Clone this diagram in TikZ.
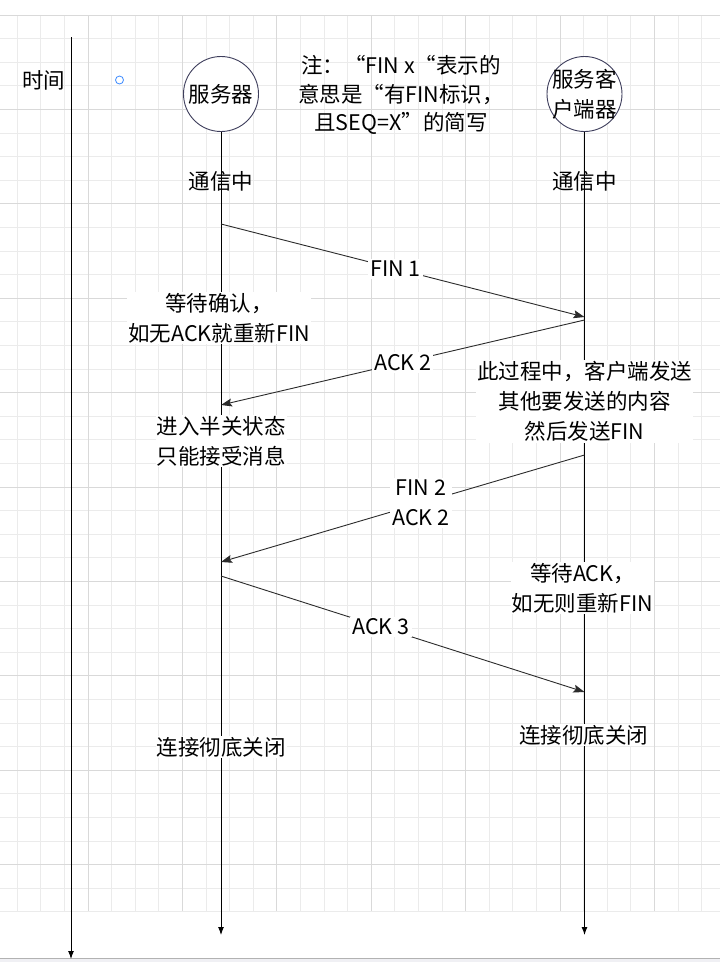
\documentclass[tikz,border=0pt]{standalone}
\usepackage{fontspec}
\setmainfont{Noto Sans CJK SC}
\usetikzlibrary{arrows.meta}
\definecolor{gridminor}{HTML}{EBEBEB}
\definecolor{gridmajor}{HTML}{D9D9D9}
\definecolor{circ}{HTML}{3E3E5C}
\definecolor{msg}{HTML}{2B2B2B}
\definecolor{blueo}{HTML}{3D8BFF}
\definecolor{botbg}{HTML}{F0F0F4}
\begin{document}
\begin{tikzpicture}[x=1pt,y=-1pt,
  txt/.style={font=\fontsize{21.5}{30}\selectfont, align=center, inner sep=1pt, text=black},
  wbox/.style={txt, fill=white},
  lifeline/.style={line width=1pt, -{Latex[length=8pt,width=6pt]}},
  message/.style={draw=msg, line width=0.9pt, -{Stealth[length=11pt,width=8pt,inset=2pt]}},
  lbl/.style={txt, fill=white, inner sep=2pt},
  actor/.style={circle, draw=circ, line width=0.9pt, fill=white, minimum size=75pt, inner sep=0pt}
]
\useasboundingbox (0,0) rectangle (720,962);
\fill[white] (0,0) rectangle (720,962);
% grid
\foreach \i in {0,...,29} { \draw[gridminor, line width=0.8pt] ({17.2+23.6*\i},15) -- ({17.2+23.6*\i},911); }
\foreach \j in {0,...,38} { \draw[gridminor, line width=0.8pt] (0,{15+23.6*\j}) -- (720,{15+23.6*\j}); }
\foreach \i in {0,...,6} { \draw[gridmajor, line width=0.8pt] ({88+94.4*\i},15) -- ({88+94.4*\i},911); }
\foreach \j in {0,...,9} { \draw[gridmajor, line width=0.8pt] (0,{15+94.4*\j}) -- (720,{15+94.4*\j}); }
% bottom strip
\fill[botbg] (0,958) rectangle (720,962);
\draw[gray!60, line width=0.8pt] (0,958) -- (720,958);

% time axis
\coordinate (t0) at (71,37);
\coordinate (t1) at (71,959);
\draw[lifeline] (t0) -- (t1);
\node[txt] (timelbl) at (43.5,80) {时间};
\node[circle, draw=blueo, line width=0.8pt, minimum size=8pt, inner sep=0pt] (dot) at (119.5,80) {};

% actors
\node[actor, label={[txt]center:服务器}] (server) at (221,94) {};
\node[actor, label={[txt]center:服务客\\户端器}] (client) at (584.5,94) {};
\node[txt, font=\fontsize{21.5}{28.5}\selectfont] (note) at (401,95) {注：“FIN x“表示的\\意思是“有FIN标识，\\且SEQ=X”的简写};

% lifelines
\coordinate (send) at (221,935);
\coordinate (cend) at (584.5,935);
\draw[lifeline] (server.south) -- (send);
\draw[lifeline] (client.south) -- (cend);

% message endpoints
\coordinate (s1) at (221,224);
\coordinate (c1) at (584.5,317);
\coordinate (c2) at (584.5,320);
\coordinate (s2) at (221,405);
\coordinate (c3) at (584.5,455);
\coordinate (s3) at (221,562);
\coordinate (s4) at (221,576);
\coordinate (c4) at (584.5,692);

\draw[message] (s1) -- node[lbl, pos=0.48] (fin1) {FIN 1} (c1);
\draw[message] (c2) -- node[lbl, pos=0.5] (ack2) {ACK 2} (s2);
\draw[message] (c3) -- node[lbl, pos=0.45] (finack) {FIN 2\\ACK 2} (s3);
\draw[message] (s4) -- node[lbl, pos=0.44] (ack3) {ACK 3} (c4);

% state texts
\node[txt] (comm1) at (221,181) {通信中};
\node[txt] (comm2) at (584.5,181) {通信中};
\node[wbox] (wait1) at (219,318) {等待确认，\\如无ACK就重新FIN};
\node[wbox] (half) at (221,441) {进入半关状态\\只能接受消息};
\node[wbox] (proc) at (584.5,401.5) {此过程中，客户端发送\\其他要发送的内容\\然后发送FIN};
\node[wbox] (wait2) at (582.5,588) {等待ACK，\\如无则重新FIN};
\node[wbox] (close1) at (221,747) {连接彻底关闭};
\node[wbox] (close2) at (583.5,735) {连接彻底关闭};
\end{tikzpicture}
\end{document}
